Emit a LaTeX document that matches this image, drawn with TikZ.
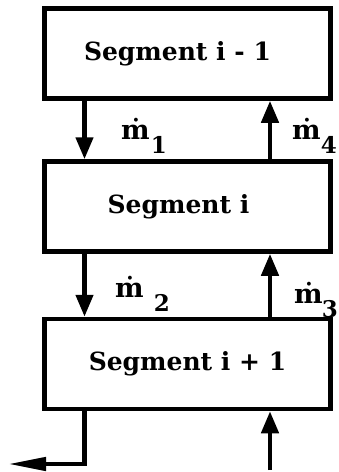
\documentclass[tikz,border=0pt]{standalone}
\usepackage{fontspec}
\setmainfont{DejaVu Serif}
\usetikzlibrary{arrows.meta,positioning}
\newcommand{\mdot}[2][0pt]{ṁ\hspace{#1}\raisebox{-14pt}{\fontsize{23}{23}\selectfont #2}}

\begin{document}
\begin{tikzpicture}[x=1pt,y=1pt,
    segment/.style={draw,line width=4.5pt,minimum width=286pt,minimum height=90pt,
        inner sep=0pt,font={\fontsize{25}{30}\selectfont\bfseries}},
    flow/.style={line width=4.5pt,-{Triangle[width=17pt,length=22pt]}},
    rate/.style={font={\fontsize{27}{30}\selectfont\bfseries},inner sep=0pt,anchor=base west},
    ]
    \useasboundingbox (0,0) rectangle (338,-472);

    % Segments
    \node[segment] (prev) at (187.5,-53.5) {Segment i - 1\hspace{20pt}\mbox{}};
    \node[segment] (cur) at (187.5,-206.5) {Segment i\hspace{18pt}\mbox{}};
    \node[segment] (next) at (187.5,-364) {Segment i + 1};

    % Columns of the flows
    \coordinate (down) at (84.5,0);
    \coordinate (up) at (270,0);

    % Flows between segments
    \draw[flow] (prev.south -| down) -- (cur.north -| down);
    \draw[flow] (cur.north -| up) -- (prev.south -| up);
    \draw[flow] (cur.south -| down) -- (next.north -| down);
    \draw[flow] (next.north -| up) -- (cur.south -| up);

    % Flows in and out of the bottom segment
    \coordinate (outlet) at (8,-464);
    \coordinate (inlet) at (270,-470);
    \draw[line width=4.5pt,-{Triangle[width=13pt,length=38pt]}]
        (next.south -| down) |- (outlet);
    \draw[flow] (inlet) -- (next.south -| up);

    % Mass flow rates
    \node[rate] (m1) at (121,-139) {\mdot[1pt]{1}};
    \node[rate] (m4) at (292,-139) {\mdot{4}};
    \node[rate] (m2) at (115,-297) {\mdot[10pt]{2}};
    \node[rate] (m3) at (294,-303) {\mdot[-1pt]{3}};

\end{tikzpicture}
\end{document}
